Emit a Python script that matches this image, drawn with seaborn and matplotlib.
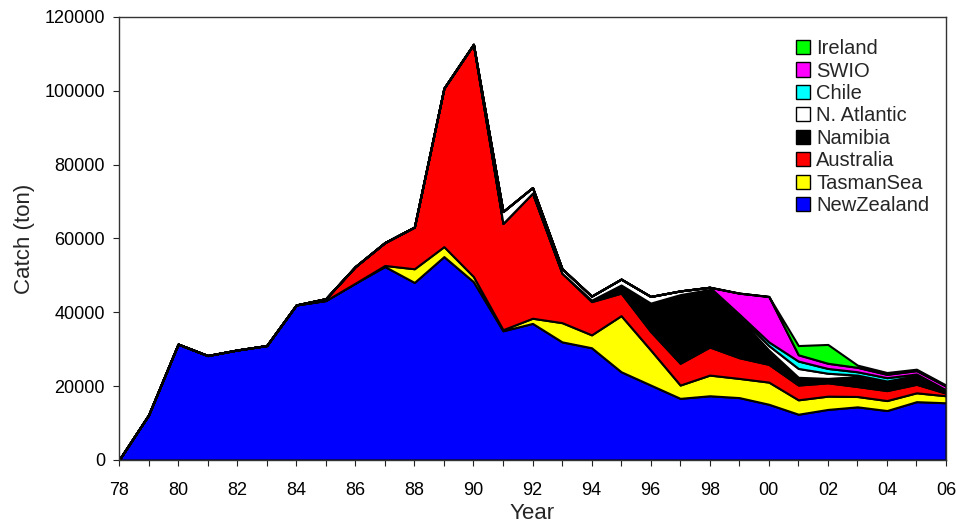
import numpy as np
import pandas as pd
import seaborn as sns
import matplotlib
matplotlib.use("Agg")
import matplotlib.pyplot as plt

years = list(range(1978, 2007))

# catch by area (ton)
new_zealand = [0, 12200, 31400, 28300, 29800, 31000, 42000, 43200, 47900, 52400,
               48100, 55100, 48300, 35000, 37000, 32000, 30400, 23900, 20300, 16700,
               17400, 16900, 15100, 12400, 13700, 14400, 13400, 15800, 15500]
tasman_sea = [0, 0, 0, 0, 0, 0, 0, 0, 0, 300,
              3700, 2700, 1400, 300, 1400, 5200, 3500, 15200, 9500, 3600,
              5600, 5200, 6000, 3900, 3600, 2800, 2700, 2400, 1900]
australia = [0, 0, 0, 0, 0, 0, 0, 500, 4500, 6200,
             11300, 42900, 62900, 28800, 33900, 13400, 9000, 6100, 5000, 5900,
             7600, 5600, 4800, 4000, 3600, 2700, 2700, 2300, 700]
namibia = [0, 0, 0, 0, 0, 0, 0, 0, 0, 0,
           0, 0, 0, 0, 0, 0, 400, 2200, 7700, 18600,
           15600, 10800, 3900, 2100, 1200, 2700, 2100, 1900, 400]
n_atlantic = [0, 0, 0, 0, 0, 0, 0, 0, 0, 0,
              0, 0, 0, 3200, 1500, 1200, 1100, 1600, 1800, 1000,
              600, 500, 1200, 2400, 1400, 400, 500, 500, 200]
chile = [0, 0, 0, 0, 0, 0, 0, 0, 0, 0,
         0, 0, 0, 0, 0, 0, 0, 0, 0, 0,
         0, 500, 1000, 2000, 1300, 900, 900, 400, 300]
swio = [0, 0, 0, 0, 0, 0, 0, 0, 0, 0,
        0, 0, 0, 0, 0, 0, 0, 0, 0, 0,
        0, 5700, 12300, 1700, 1400, 1200, 900, 900, 1000]
ireland = [0, 0, 0, 0, 0, 0, 0, 0, 0, 0,
           0, 0, 0, 0, 0, 0, 0, 0, 0, 0,
           0, 0, 0, 2500, 5100, 600, 500, 400, 300]

areas = ['NewZealand', 'TasmanSea', 'Australia', 'Namibia',
         'N. Atlantic', 'Chile', 'SWIO', 'Ireland']
colours = ['#0000ff', '#ffff00', '#ff0000', '#000000',
           '#ffffff', '#00ffff', '#ff00ff', '#00ff00']

catch = pd.DataFrame({'Year': years, 'NewZealand': new_zealand, 'TasmanSea': tasman_sea,
                      'Australia': australia, 'Namibia': namibia, 'N. Atlantic': n_atlantic,
                      'Chile': chile, 'SWIO': swio, 'Ireland': ireland})

sns.set_style('ticks')
plt.rcParams['font.family'] = ['Liberation Sans', 'DejaVu Sans']

fig = plt.figure(figsize=(9.56, 5.23), dpi=100)
ax = fig.add_axes([119 / 956, 1 - 460 / 523, 827 / 956, 443 / 523])

polys = ax.stackplot(catch['Year'], [catch[a] for a in areas], labels=areas,
                     colors=colours, edgecolor='black', linewidth=1.5)

ax.set_xlim(1978, 2006)
ax.set_ylim(0, 120000)
ax.set_xticks(years)
ax.set_xticklabels([str(y)[2:] if y % 2 == 0 else '' for y in years])
ax.set_yticks(range(0, 120001, 20000))
ax.tick_params(axis='both', direction='out', length=4, width=0.8,
               labelsize=13, colors='#222222', labelcolor='black')
ax.tick_params(axis='x', pad=12)
ax.tick_params(axis='y', pad=6)
for s in ax.spines.values():
    s.set_linewidth(1.0)
    s.set_color('#333333')

ax.set_xlabel('Year', fontsize=16, labelpad=3)
ax.set_ylabel('Catch (ton)', fontsize=16, labelpad=7)

handles, labels = ax.get_legend_handles_labels()
leg = ax.legend(handles[::-1], labels[::-1], loc='upper left',
                bbox_to_anchor=(0.819, 0.95), frameon=False, fontsize=14.5,
                handlelength=0.7, handleheight=0.7, handletextpad=0.3,
                labelspacing=0.17, borderpad=0, borderaxespad=0)
for h in leg.legend_handles:
    h.set_edgecolor('black')
    h.set_linewidth(1.0)

fig.savefig('out.png', dpi=100)
